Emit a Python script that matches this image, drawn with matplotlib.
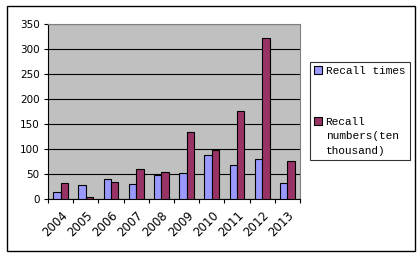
import numpy as np
import matplotlib.pyplot as plt
from matplotlib.patches import Rectangle

years = ['2004', '2005', '2006', '2007', '2008', '2009', '2010', '2011', '2012', '2013']
recall_times = [14, 28, 40, 30, 48, 52, 88, 68, 80, 32]
recall_numbers = [32, 4, 34, 60, 54, 135, 98, 176, 321, 76]

W, H = 419, 254
fig = plt.figure(figsize=(W / 100, H / 100), dpi=100)
fig.patch.set_facecolor('white')

# outer chart border
fig.patches.append(Rectangle((6.5 / W, 1 - 250.5 / H), 408 / W, 245 / H,
                             transform=fig.transFigure, fill=False,
                             edgecolor='black', linewidth=1))

ax = fig.add_axes([48 / W, 1 - 199.3 / H, 252 / W, 175.6 / H])
ax.set_facecolor('#C0C0C0')

x = np.arange(len(years))
bw = 0.29
ax.bar(x - bw / 2, recall_times, bw, color='#9999FF', edgecolor='black',
       linewidth=0.8, label='Recall times', zorder=3)
ax.bar(x + bw / 2, recall_numbers, bw, color='#993366', edgecolor='black',
       linewidth=0.8, label='Recall\nnumbers(ten\nthousand)', zorder=3)

ax.set_xlim(-0.5, len(years) - 0.5)
ax.set_ylim(0, 350)
ax.set_yticks(range(0, 351, 50))
ax.yaxis.grid(True, color='black', linewidth=0.8, zorder=1)
ax.tick_params(axis='y', labelsize=7.5, length=3, width=0.8, pad=3)

ax.set_xticks(x)
ax.set_xticklabels(years, rotation=45, ha='right', rotation_mode='anchor', fontsize=8.5)
ax.tick_params(axis='x', which='major', length=0, pad=7)
ax.set_xticks(np.arange(-0.5, len(years)), minor=True)
ax.tick_params(axis='x', which='minor', length=3, width=0.8)

ax.spines['left'].set_color('black')
ax.spines['bottom'].set_color('black')
ax.spines['top'].set_color('#808080')
ax.spines['right'].set_color('#808080')
for s in ax.spines.values():
    s.set_linewidth(0.8)

leg = fig.legend(loc='upper left', bbox_to_anchor=(310 / W, 1 - 62 / H),
                 prop={'family': 'Liberation Mono', 'size': 8},
                 frameon=True, fancybox=False, edgecolor='black',
                 handlelength=0.7, handleheight=0.7, handletextpad=0.3,
                 labelspacing=3.65, borderpad=0.4, borderaxespad=0)
leg.get_frame().set_linewidth(0.8)
for t in leg.get_texts():
    t.set_linespacing(1.55)
# put the square next to the first line of a multi-line label
for col in leg._legend_handle_box.get_children():
    for row in col.get_children():
        row.align = 'top'

fig.savefig('out.png', dpi=100)
